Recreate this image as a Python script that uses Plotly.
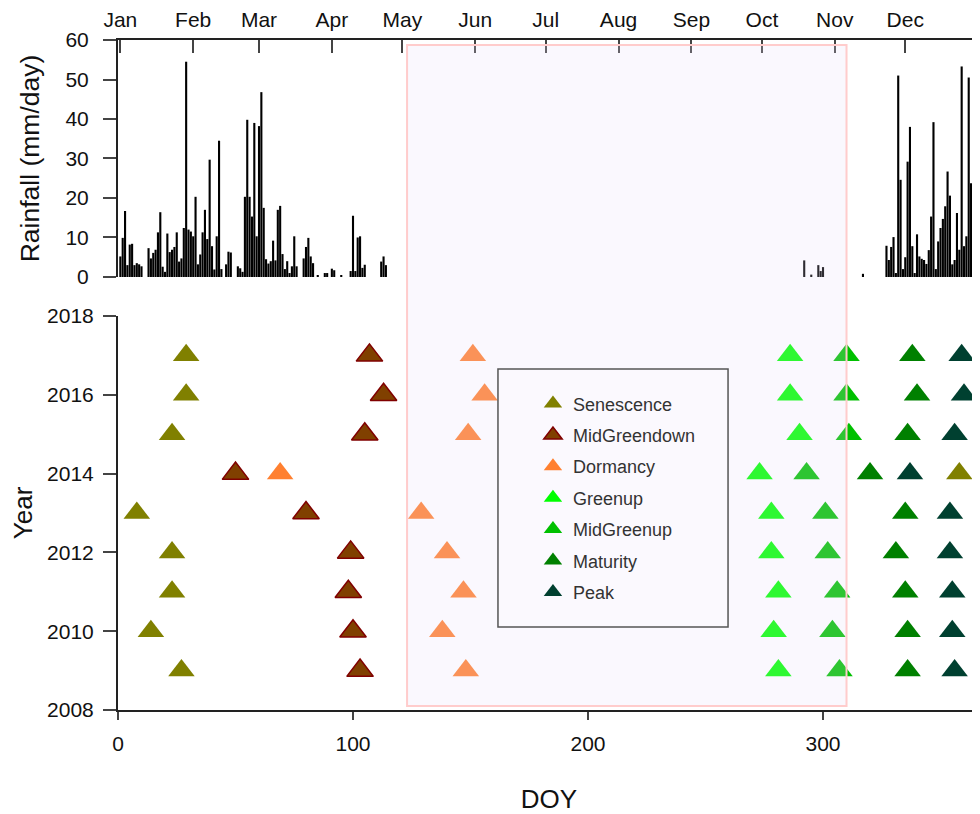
import plotly.graph_objects as go

# ---------------- data ----------------
years = [2009, 2010, 2011, 2012, 2013, 2014, 2015, 2016, 2017]

senescence   = [27, 14, 23, 23, 8, 358, 23, 29, 29]
midgreendown = [103, 100, 98, 99, 80, 50, 105, 113, 107]
dormancy     = [148, 138, 147, 140, 129, 69, 149, 156, 151]
greenup      = [281, 279, 281, 278, 278, 273, 290, 286, 286]
midgreenup   = [307, 304, 306, 302, 301, 293, 311, 310, 310]
maturity     = [336, 336, 335, 331, 335, 320, 336, 340, 338]
peak         = [356, 355, 355, 354, 354, 337, 356, 360, 359]

rain_doy = [1, 2, 3, 4, 5, 6, 7, 8, 9, 10, 13, 14, 15, 16, 17, 18, 19, 20, 21, 22,
            23, 24, 25, 26, 27, 28, 29, 30, 31, 32, 33, 34, 35, 36, 37, 38, 39, 40,
            41, 42, 43, 44, 46, 47, 48, 51, 52, 53, 54, 55, 56, 57, 58, 59, 60, 61,
            62, 63, 64, 65, 66, 67, 68, 69, 70, 71, 72, 73, 74, 75, 76, 79, 80, 81,
            82, 83, 85, 88, 89, 91, 92, 95, 99, 100, 101, 102, 103, 104, 105, 112,
            113, 114, 292, 295, 298, 299, 300, 317, 327, 328, 329, 330, 331, 332,
            333, 334, 335, 336, 337, 338, 339, 340, 341, 342, 343, 344, 345, 346,
            347, 348, 349, 350, 351, 352, 353, 354, 355, 356, 357, 358, 359, 360,
            361, 362, 363, 364, 365]
rain_mm = [5.2, 9.9, 16.7, 3.0, 8.2, 8.4, 3.0, 3.5, 3.2, 2.7, 7.3, 4.7, 6.1, 6.9, 11.3,
           16.4, 2.6, 1.3, 11.0, 6.3, 6.9, 7.6, 11.3, 3.9, 4.7, 12.4, 54.5, 12.0, 11.5,
           10.3, 20.3, 3.2, 5.7, 11.3, 17.0, 9.6, 29.7, 7.8, 1.9, 10.3, 34.5, 2.0, 3.2,
           6.4, 6.2, 2.7, 2.2, 1.3, 20.3, 39.8, 20.3, 15.3, 39.0, 10.3, 38.2, 46.8,
           17.5, 4.5, 3.4, 4.0, 9.2, 4.2, 17.0, 18.0, 5.8, 2.0, 4.0, 1.0, 2.7, 10.3,
           2.7, 4.7, 7.6, 9.9, 5.2, 3.5, 0.4, 1.0, 1.0, 2.1, 1.7, 0.5, 1.5, 15.5, 1.5,
           10.0, 10.3, 2.3, 3.1, 3.9, 5.2, 3.0, 4.2, 0.6, 3.0, 1.5, 2.5, 0.8, 7.9, 4.3,
           7.6, 10.1, 1.0, 51.0, 24.6, 2.0, 5.0, 29.2, 38.0, 7.8, 1.0, 10.8, 5.2, 4.6,
           4.3, 3.3, 6.8, 15.3, 39.2, 2.0, 9.0, 12.4, 14.7, 17.9, 26.7, 20.6, 3.2, 4.3,
           16.2, 6.9, 53.3, 7.8, 10.3, 50.5, 23.7, 14.6, 7.4]

month_doy = [1, 32, 60, 91, 121, 152, 182, 213, 244, 274, 305, 335]
month_lbl = ["Jan", "Feb", "Mar", "Apr", "May", "Jun", "Jul", "Aug", "Sep", "Oct", "Nov", "Dec"]

phases = [
    ("Senescence", senescence, "#808000", "#808000"),
    ("MidGreendown", midgreendown, "#804000", "#800000"),
    ("Dormancy", dormancy, "#ff8030", "#ff8030"),
    ("Greenup", greenup, "#00ff00", "#00ff00"),
    ("MidGreenup", midgreenup, "#00c000", "#00c000"),
    ("Maturity", maturity, "#008000", "#008000"),
    ("Peak", peak, "#004030", "#004030"),
]

FONT = "Liberation Sans, Arial, sans-serif"

fig = go.Figure()

fig.add_trace(go.Bar(x=rain_doy, y=rain_mm, xaxis="x2", yaxis="y2",
                     marker=dict(color="black", line=dict(width=0)),
                     width=0.9, showlegend=False))

for name, vals, fill, edge in phases:
    fig.add_trace(go.Scatter(
        x=vals, y=years, mode="markers", name=name, legendgroup=name,
        marker=dict(symbol="triangle-up", size=23, color=fill,
                    line=dict(color=edge, width=1.5 if edge != fill else 0)),
    ))

common = dict(showgrid=False, zeroline=False, automargin=False,
              linecolor="#222", linewidth=2, tickwidth=1.5, showline=True,
              tickfont=dict(size=21, color="#111"))

# page has an 8px body margin; plot area on page: x 118..980, y 40..710
fig.update_layout(
    width=972, height=806,
    margin=dict(l=110, r=0, t=32, b=104),
    paper_bgcolor="white", plot_bgcolor="white",
    font=dict(family=FONT, size=18, color="#111"),
    xaxis=dict(domain=[0, 1], range=[0, 366.8], anchor="y",
               tickvals=[0, 100, 200, 300], ticks="outside", ticklen=8,
               ticklabelstandoff=6,
               title=dict(text="DOY", font=dict(size=26), standoff=43), **common),
    yaxis=dict(domain=[0, 0.5881], range=[2008, 2018], anchor="x",
               tickvals=list(range(2008, 2019, 2)), ticks="outside", ticklen=13,
               ticklabelstandoff=5,
               title=dict(text="Year", font=dict(size=26), standoff=13), **common),
    xaxis2=dict(domain=[0, 1], range=[0, 366.8], anchor="y2", side="top",
                tickvals=month_doy, ticktext=month_lbl, ticks="inside", ticklen=13,
                ticklabelstandoff=3, **common),
    yaxis2=dict(domain=[0.6463, 1], range=[0, 60], anchor="x2",
                tickvals=list(range(0, 61, 10)), ticks="outside", ticklen=13,
                ticklabelstandoff=10,
                title=dict(text="Rainfall (mm/day)", font=dict(size=26.5), standoff=18),
                **common),
    bargap=0.1,
    legend=dict(x=0.4814, y=0.4846, xanchor="left", yanchor="top",
                bgcolor="rgba(0,0,0,0)", borderwidth=0,
                font=dict(size=18, color="#333"), tracegroupgap=5),
    shapes=[
        dict(type="rect", xref="x", yref="paper", x0=123, x1=310, y0=0.006, y1=0.9925,
             fillcolor="rgba(230,220,250,0.2)", line=dict(color="#ffcccc", width=2),
             layer="above"),
        dict(type="rect", xref="paper", yref="paper", x0=0.4408, x1=0.7077,
             y0=0.1239, y1=0.5090, fillcolor="#fbf9fe",
             line=dict(color="#555", width=1.5), layer="above"),
    ],
)

fig.write_html("out.html")
